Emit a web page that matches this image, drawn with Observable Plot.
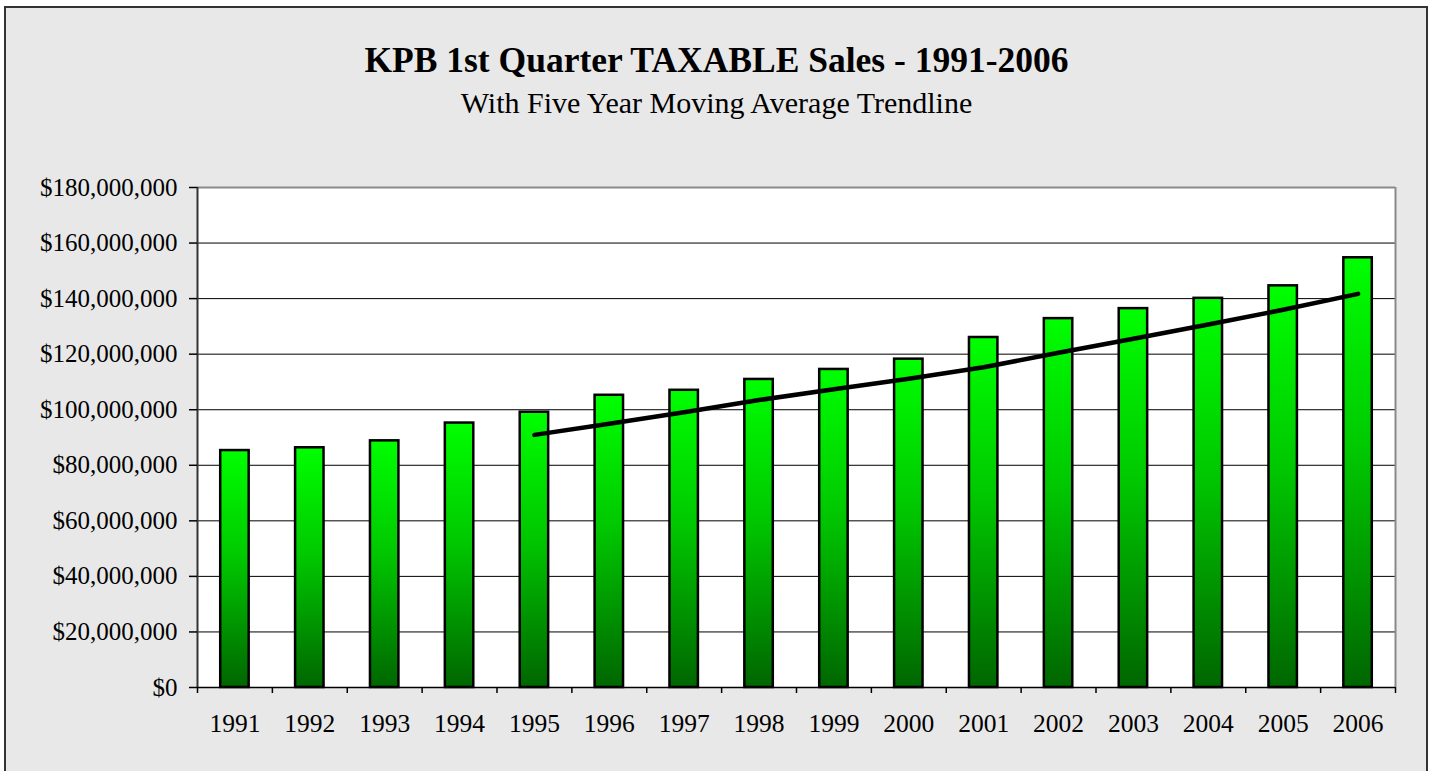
<!DOCTYPE html>
<html><head><meta charset="utf-8">
<script src="https://cdn.jsdelivr.net/npm/d3@7"></script>
<script src="https://cdn.jsdelivr.net/npm/@observablehq/plot@0.6"></script>
<style>
html,body{margin:0;padding:0;background:#fff;width:1433px;height:771px;overflow:hidden;font-family:"Liberation Serif","Times New Roman",serif;}
#frame{position:absolute;left:4px;top:6px;width:1420px;height:800px;background:#e8e8e8;border:2px solid #333;}
#chart{position:absolute;left:0;top:0;}
.t{position:absolute;left:0;width:1433px;text-align:center;color:#000;line-height:1;white-space:nowrap;}
#title{top:43px;font-size:35.5px;font-weight:bold;}
#subtitle{top:88px;font-size:30px;}
</style>
</head><body>
<div id="frame"></div>
<div id="chart"></div>
<div class="t" id="title">KPB 1st Quarter TAXABLE Sales - 1991-2006</div>
<div class="t" id="subtitle">With Five Year Moving Average Trendline</div>
<script>
const years = [1991,1992,1993,1994,1995,1996,1997,1998,1999,2000,2001,2002,2003,2004,2005,2006];
const sales = [85300000,86300000,88800000,95200000,99100000,105200000,107000000,110900000,114500000,118200000,126000000,132800000,136400000,140100000,144600000,154700000];
const trendYears = [1995,1996,1997,1998,1999,2000,2001,2002,2003,2004,2005,2006];
const trendValues = [90940000,94920000,99060000,103480000,107340000,111160000,115320000,120480000,125580000,130700000,135980000,141720000];
const yTicks = [0,20000000,40000000,60000000,80000000,100000000,120000000,140000000,160000000,180000000];
const gridLines = [20000000,40000000,60000000,80000000,100000000,120000000,140000000,160000000];
const categoryBounds = [1990.5,1991.5,1992.5,1993.5,1994.5,1995.5,1996.5,1997.5,1998.5,1999.5,2000.5,2001.5,2002.5,2003.5,2004.5,2005.5,2006.5];

const bars = years.map((y,i)=>({year:y, value:sales[i]}));
const trend = trendYears.map((y,i)=>({year:y, value:trendValues[i]}));
const half = 0.19;

const plot = Plot.plot({
  width: 1433,
  height: 771,
  marginLeft: 197,
  marginRight: 38,
  marginTop: 187,
  marginBottom: 84,
  style: {background: "transparent", color: "#000", fontFamily: '"Liberation Serif","Times New Roman",serif', fontSize: "25px", overflow: "visible"},
  x: {type: "linear", domain: [1990.5, 2006.5], label: null},
  y: {domain: [0, 180000000], label: null},
  marks: [
    Plot.frame({fill: "#fff", stroke: "none"}),
    Plot.ruleY(gridLines, {stroke: "#000", strokeWidth: 1}),
    Plot.rectY(bars, {x1: d => d.year - half, x2: d => d.year + half, y: "value", fill: "url(#barGrad)", stroke: "#000", strokeWidth: 2.5}),
    Plot.line(trend, {x: "year", y: "value", stroke: "#000", strokeWidth: 4.5, strokeLinecap: "round", strokeLinejoin: "round"}),
    Plot.ruleY([180000000], {stroke: "#8a8a8a", strokeWidth: 2}),
    Plot.ruleX([2006.5], {stroke: "#8a8a8a", strokeWidth: 2}),
    Plot.ruleX([1990.5], {stroke: "#333", strokeWidth: 2}),
    Plot.ruleY([0], {stroke: "#000", strokeWidth: 1.5}),
    Plot.axisY({ticks: yTicks, tickSize: 8, tickPadding: 12, tickFormat: d3.format("$,"), strokeWidth: 1.5, fontSize: 25}),
    Plot.axisX({ticks: categoryBounds, tickSize: 6, tickFormat: () => "", strokeWidth: 1.5}),
    Plot.axisX({ticks: years, tickSize: 0, tickPadding: 26, tickFormat: d => String(d), fontSize: 25.5})
  ]
});

const svg = d3.select(plot);
const grad = svg.insert("defs", ":first-child").append("linearGradient")
  .attr("id", "barGrad").attr("x1", 0).attr("y1", 0).attr("x2", 0).attr("y2", 1);
grad.append("stop").attr("offset", "0%").attr("stop-color", "#00ff00");
grad.append("stop").attr("offset", "45%").attr("stop-color", "#00c800");
grad.append("stop").attr("offset", "100%").attr("stop-color", "#006600");

document.getElementById("chart").appendChild(plot);
</script>
</body></html>
